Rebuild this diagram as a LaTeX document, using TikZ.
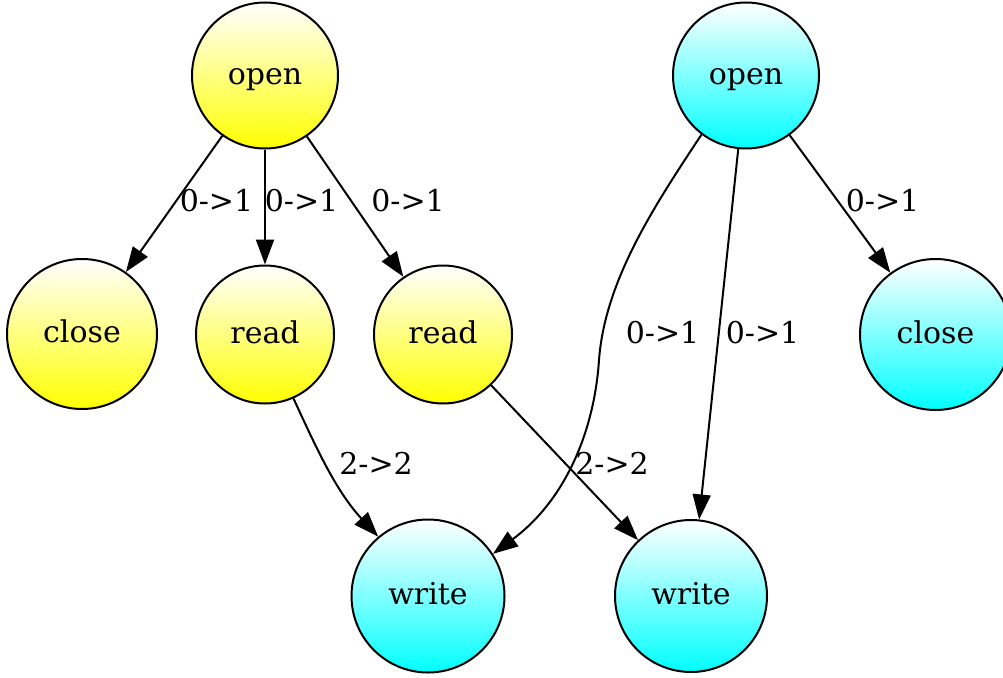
\documentclass[tikz,border=0pt]{standalone}
\usepackage{fontspec}
\setmainfont{DejaVu Serif}
\usetikzlibrary{arrows.meta}
\tikzset{
  st/.style={circle, draw=black, line width=2pt, inner sep=0pt,
    font=\fontsize{30}{35}\selectfont, text height=21pt, text depth=4pt},
  ys/.style={st, top color=white, bottom color=yellow},
  cs/.style={st, top color=white, bottom color=cyan},
  edge/.style={draw=black, line width=2pt, -{Triangle[length=25pt,width=18pt]}},
  lbl/.style={inner sep=0pt, font=\fontsize{30}{35}\selectfont}
}
\begin{document}
\begin{tikzpicture}[x=1pt,y=-1pt]
\useasboundingbox (0,0) rectangle (1003,677);
\node[ys, minimum size=146pt] (oy) at (265,75.5) {open};
\node[ys, minimum size=150pt] (cy) at (82,334) {close};
\node[ys, minimum size=138pt] (r1) at (265,334.5) {read};
\node[ys, minimum size=138pt] (r2) at (443,334.5) {read};
\node[cs, minimum size=146pt] (oc) at (746,75.5) {open};
\node[cs, minimum size=151pt] (cc) at (935.5,334.5) {close};
\node[cs, minimum size=153pt] (w1) at (428,596) {write};
\node[cs, minimum size=152pt] (w2) at (691,596) {write};

\draw[edge] (oy) -- (cy);
\draw[edge] (oy) -- (r1);
\draw[edge] (oy) -- (r2);
\draw[edge] (r1.294) .. controls (315,445) and (335,490) .. (w1.130);
\draw[edge] (r2) -- (w2);
\draw[edge] (oc.233) .. controls (655,205) and (605,280) .. (599,360)
  .. controls (594,435) and (563,502) .. (w1.33);
\draw[edge] (oc) -- (w2);
\draw[edge] (oc) -- (cc);

\node[lbl] (l1) at (216.5,201) {0->1};
\node[lbl] (l2) at (301.5,201) {0->1};
\node[lbl] (l3) at (408,201) {0->1};
\node[lbl] (l4) at (376,463) {2->2};
\node[lbl] (l5) at (612,463) {2->2};
\node[lbl] (l6) at (662.5,332.5) {0->1};
\node[lbl] (l7) at (762.5,332.5) {0->1};
\node[lbl] (l8) at (882.5,201) {0->1};
\end{tikzpicture}
\end{document}
